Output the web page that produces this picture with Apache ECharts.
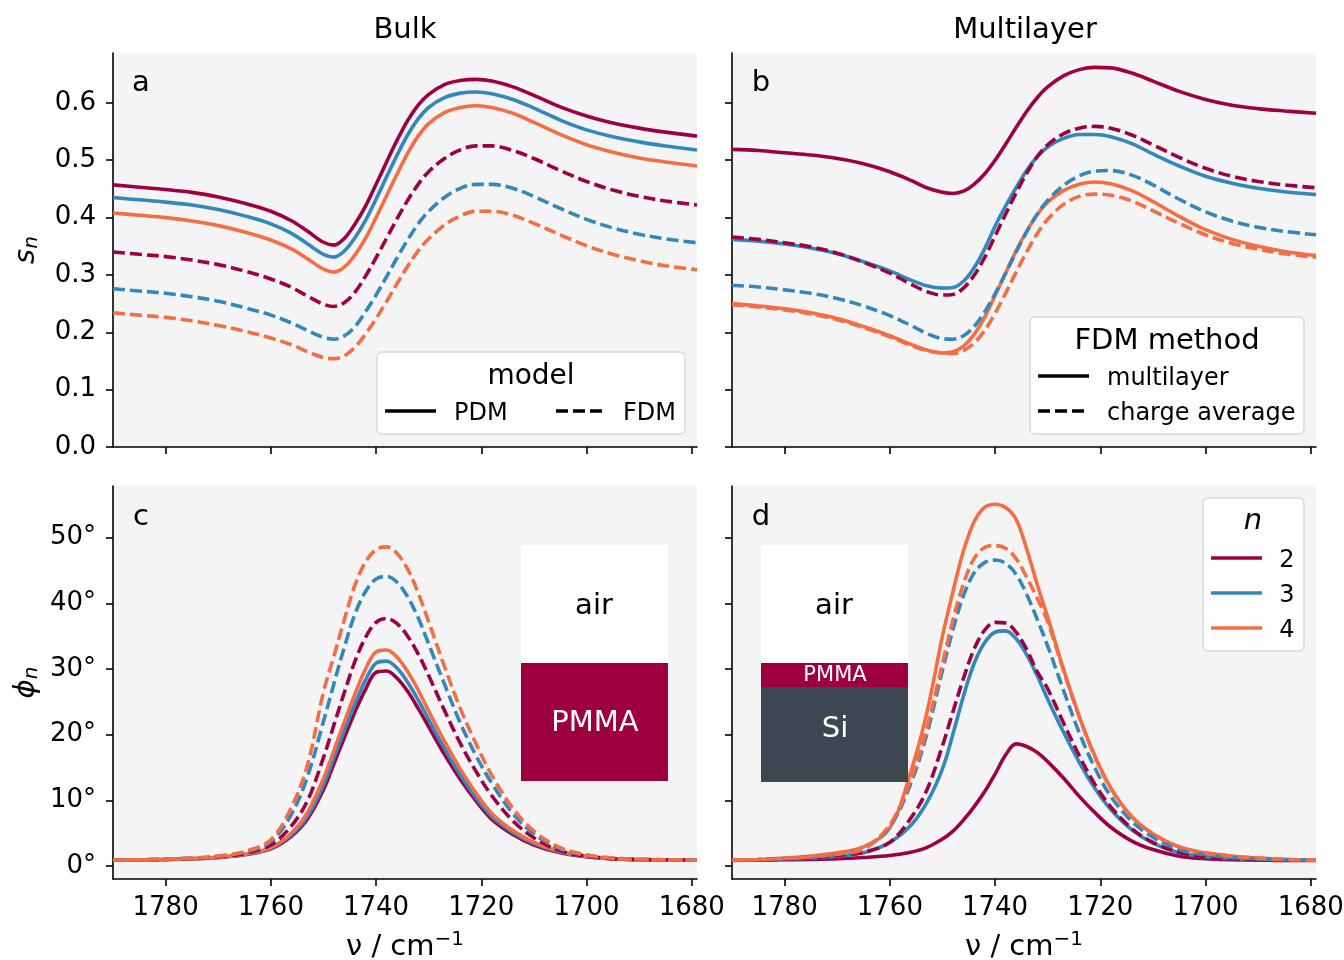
<!DOCTYPE html>
<html>
<head>
<meta charset="utf-8">
<title>PMMA near-field spectra</title>
<script src="https://cdn.jsdelivr.net/npm/echarts@6/dist/echarts.min.js"></script>
<style>
  html, body { margin: 0; padding: 0; background: #fff; }
  #chart { width: 1344px; height: 960px; }
</style>
</head>
<body>
<div id="chart"></div>
<script>
// wavenumber samples in cm^-1, shared by every curve
const wavenumber = [1790, 1785, 1780, 1775, 1770, 1765, 1760, 1756, 1753, 1750, 1748, 1746, 1744, 1742, 1740, 1738,
  1736, 1734, 1732, 1730, 1727, 1724, 1721, 1718, 1714, 1710, 1705, 1700, 1695, 1690, 1685, 1679];

const xTicks = [1780, 1760, 1740, 1720, 1700, 1680];
const ampTicks = [0, 0.1, 0.2, 0.3, 0.4, 0.5, 0.6];
const phaseTicks = [0, 10, 20, 30, 40, 50];
const harmonics = ['2', '3', '4'];

// a: bulk, amplitude s_n
const bulkAmpPdm2 = [0.457, 0.453, 0.449, 0.444, 0.436, 0.425, 0.411, 0.394, 0.376, 0.357, 0.352, 0.364, 0.389, 0.420, 0.458, 0.497,
  0.535, 0.569, 0.596, 0.615, 0.632, 0.639, 0.641, 0.638, 0.628, 0.613, 0.593, 0.577, 0.565, 0.556, 0.549, 0.542];
const bulkAmpPdm3 = [0.435, 0.431, 0.427, 0.422, 0.414, 0.403, 0.389, 0.372, 0.354, 0.336, 0.331, 0.342, 0.365, 0.395, 0.432, 0.471,
  0.509, 0.544, 0.572, 0.592, 0.609, 0.617, 0.619, 0.616, 0.606, 0.591, 0.570, 0.553, 0.541, 0.532, 0.525, 0.518];
const bulkAmpPdm4 = [0.408, 0.404, 0.400, 0.394, 0.386, 0.375, 0.361, 0.345, 0.328, 0.310, 0.305, 0.314, 0.335, 0.364, 0.400, 0.438,
  0.476, 0.512, 0.542, 0.564, 0.583, 0.592, 0.595, 0.592, 0.582, 0.566, 0.545, 0.527, 0.514, 0.504, 0.497, 0.490];
const bulkAmpFdm2 = [0.340, 0.336, 0.332, 0.326, 0.318, 0.307, 0.293, 0.278, 0.263, 0.249, 0.245, 0.252, 0.270, 0.298, 0.330, 0.364,
  0.398, 0.430, 0.458, 0.480, 0.503, 0.518, 0.525, 0.525, 0.517, 0.503, 0.482, 0.463, 0.448, 0.437, 0.429, 0.422];
const bulkAmpFdm3 = [0.276, 0.272, 0.268, 0.262, 0.254, 0.243, 0.230, 0.216, 0.203, 0.191, 0.188, 0.194, 0.210, 0.236, 0.265, 0.297,
  0.330, 0.361, 0.389, 0.411, 0.435, 0.451, 0.458, 0.458, 0.451, 0.437, 0.416, 0.397, 0.382, 0.371, 0.363, 0.356];
const bulkAmpFdm4 = [0.234, 0.230, 0.226, 0.220, 0.212, 0.202, 0.190, 0.178, 0.166, 0.156, 0.154, 0.159, 0.174, 0.197, 0.224, 0.254,
  0.285, 0.315, 0.342, 0.363, 0.387, 0.403, 0.411, 0.411, 0.404, 0.390, 0.370, 0.351, 0.336, 0.325, 0.316, 0.309];

// b: multilayer, amplitude s_n
const multiAmpMl2 = [0.519, 0.517, 0.513, 0.509, 0.503, 0.494, 0.480, 0.465, 0.452, 0.444, 0.442, 0.446, 0.458, 0.476, 0.500, 0.528,
  0.557, 0.585, 0.609, 0.628, 0.647, 0.658, 0.662, 0.661, 0.652, 0.638, 0.620, 0.606, 0.596, 0.590, 0.586, 0.582];
const multiAmpMl3 = [0.362, 0.359, 0.354, 0.347, 0.337, 0.323, 0.307, 0.291, 0.281, 0.277, 0.278, 0.289, 0.312, 0.345, 0.385, 0.420,
  0.452, 0.482, 0.506, 0.523, 0.538, 0.545, 0.545, 0.541, 0.529, 0.511, 0.490, 0.472, 0.460, 0.451, 0.445, 0.440];
const multiAmpMl4 = [0.250, 0.246, 0.241, 0.234, 0.224, 0.210, 0.194, 0.179, 0.169, 0.164, 0.166, 0.176, 0.196, 0.226, 0.264, 0.303,
  0.342, 0.376, 0.405, 0.427, 0.447, 0.458, 0.462, 0.459, 0.447, 0.428, 0.402, 0.379, 0.362, 0.350, 0.341, 0.334];
const multiAmpCa2 = [0.366, 0.362, 0.356, 0.349, 0.338, 0.322, 0.303, 0.284, 0.271, 0.265, 0.266, 0.277, 0.299, 0.330, 0.368, 0.406,
  0.443, 0.477, 0.506, 0.527, 0.546, 0.556, 0.559, 0.556, 0.544, 0.527, 0.505, 0.486, 0.472, 0.463, 0.457, 0.452];
const multiAmpCa3 = [0.282, 0.279, 0.274, 0.268, 0.259, 0.246, 0.229, 0.212, 0.198, 0.189, 0.188, 0.194, 0.210, 0.235, 0.267, 0.303,
  0.340, 0.375, 0.406, 0.430, 0.456, 0.473, 0.481, 0.482, 0.474, 0.457, 0.432, 0.410, 0.394, 0.383, 0.376, 0.370];
const multiAmpCa4 = [0.248, 0.244, 0.239, 0.232, 0.222, 0.208, 0.192, 0.177, 0.168, 0.164, 0.163, 0.168, 0.181, 0.203, 0.233, 0.268,
  0.305, 0.340, 0.372, 0.397, 0.423, 0.437, 0.441, 0.439, 0.429, 0.412, 0.390, 0.370, 0.355, 0.345, 0.337, 0.331];

// c: bulk, phase phi_n in degrees
const bulkPhPdm2 = [0.9, 0.9, 1.0, 1.1, 1.3, 1.7, 2.6, 4.6, 7.2, 11.6, 15.6, 19.6, 23.5, 26.9, 29.5, 29.7,
  28.6, 26.6, 24.0, 21.2, 17.0, 13.2, 9.9, 7.1, 4.8, 3.2, 2.0, 1.4, 1.1, 0.95, 0.9, 0.9];
const bulkPhPdm3 = [0.9, 0.9, 1.0, 1.1, 1.3, 1.75, 2.7, 4.8, 7.6, 12.3, 16.5, 20.7, 24.7, 28.3, 30.9, 31.2,
  30.1, 28.0, 25.3, 22.3, 17.9, 13.9, 10.4, 7.5, 5.1, 3.4, 2.1, 1.45, 1.1, 0.95, 0.9, 0.9];
const bulkPhPdm4 = [0.9, 0.9, 1.0, 1.1, 1.35, 1.8, 2.8, 5.1, 8.2, 13.3, 17.6, 22.0, 26.2, 30.0, 32.6, 32.9,
  31.8, 29.6, 26.8, 23.6, 19.0, 14.8, 11.1, 8.0, 5.4, 3.6, 2.2, 1.5, 1.1, 0.95, 0.9, 0.9];
const bulkPhFdm2 = [0.9, 0.95, 1.0, 1.15, 1.4, 1.9, 3.2, 6.2, 10.0, 16.5, 21.5, 26.5, 31.2, 34.8, 37.1, 37.7,
  36.9, 35.0, 32.3, 29.0, 23.7, 18.7, 14.4, 10.7, 6.9, 4.3, 2.3, 1.5, 1.1, 1.0, 0.95, 0.9];
const bulkPhFdm3 = [0.9, 0.95, 1.05, 1.2, 1.5, 2.1, 3.7, 8.0, 13.7, 22.0, 27.8, 33.4, 38.4, 41.8, 43.7, 44.1,
  43.2, 41.0, 37.8, 33.8, 27.7, 21.8, 16.8, 12.6, 8.0, 4.9, 2.6, 1.6, 1.2, 1.0, 0.95, 0.9];
const bulkPhFdm4 = [0.9, 0.95, 1.05, 1.2, 1.5, 2.2, 4.0, 9.1, 15.5, 26.5, 32.0, 37.6, 42.8, 46.3, 48.2, 48.6,
  47.6, 45.2, 41.6, 37.2, 30.4, 24.0, 18.6, 13.8, 8.8, 5.3, 2.8, 1.7, 1.2, 1.0, 0.95, 0.9];

// d: multilayer, phase phi_n in degrees
const multiPhMl2 = [0.85, 0.9, 0.95, 1.0, 1.1, 1.3, 1.6, 2.1, 2.8, 4.1, 5.3, 7.0, 9.0, 11.3, 14.0, 16.9,
  18.6, 18.2, 17.3, 15.9, 13.4, 10.6, 8.1, 5.9, 3.8, 2.5, 1.5, 1.1, 0.95, 0.9, 0.85, 0.85];
const multiPhMl3 = [0.9, 0.95, 1.05, 1.2, 1.5, 2.0, 3.6, 6.2, 9.6, 14.8, 20.1, 25.9, 30.8, 34.0, 35.6, 35.8,
  34.6, 32.2, 29.0, 25.4, 20.4, 15.8, 11.8, 8.6, 5.5, 3.5, 2.0, 1.4, 1.1, 1.0, 0.95, 0.9];
const multiPhMl4 = [0.9, 1.0, 1.2, 1.5, 2.0, 2.9, 5.8, 14.4, 23.2, 35.0, 41.8, 48.0, 52.4, 54.6, 55.1, 54.6,
  52.8, 48.3, 42.9, 37.9, 30.0, 22.8, 16.7, 11.9, 7.5, 4.9, 2.9, 2.0, 1.5, 1.2, 1.0, 0.9];
const multiPhCa2 = [0.9, 0.95, 1.05, 1.25, 1.6, 2.1, 3.6, 7.3, 11.5, 18.3, 23.5, 28.6, 33.0, 35.9, 37.1, 37.0,
  35.6, 33.0, 29.6, 27.0, 21.8, 16.8, 12.4, 9.0, 5.7, 3.6, 2.1, 1.4, 1.1, 1.0, 0.95, 0.9];
const multiPhCa3 = [0.9, 1.0, 1.15, 1.4, 1.8, 2.6, 6.0, 12.6, 20.0, 29.8, 36.0, 41.2, 44.6, 46.2, 46.6, 46.1,
  44.4, 41.4, 37.6, 33.5, 26.8, 20.3, 14.9, 10.6, 6.8, 4.4, 2.5, 1.7, 1.3, 1.1, 1.0, 0.9];
const multiPhCa4 = [0.9, 1.0, 1.15, 1.4, 1.8, 2.6, 6.3, 13.2, 20.8, 30.8, 37.5, 43.0, 46.8, 48.5, 48.8, 48.4,
  46.8, 44.0, 40.8, 37.2, 29.8, 22.7, 16.6, 11.8, 7.5, 4.9, 2.9, 2.0, 1.5, 1.2, 1.0, 0.9];

const colors = ['#9e0142', '#3288bd', '#f46d43'];
const FONT = '"DejaVu Sans", sans-serif';
const DASH = [12, 5];
const LW = 3.6;

const grids = [
  { left: 113, top: 53, width: 584, height: 394 },
  { left: 732, top: 53, width: 584, height: 394 },
  { left: 113, top: 486, width: 584, height: 393 },
  { left: 732, top: 486, width: 584, height: 393 }
].map(g => Object.assign(g, { show: true, backgroundColor: '#f4f4f4', borderWidth: 0, containLabel: false, outerBoundsMode: 'none' }));

const axisLine = { show: true, onZero: false, lineStyle: { color: '#000', width: 1.6 } };
const tickStyle = { color: '#000', width: 1.6 };

function xAxisFor(gi, labels) {
  return {
    type: 'value', gridIndex: gi, min: 1679, max: 1790, inverse: true,
    axisLine,
    axisTick: { show: true, length: 7, customValues: xTicks, lineStyle: tickStyle },
    axisLabel: {
      show: labels, customValues: xTicks, fontSize: 26, color: '#000', fontFamily: FONT, margin: 16,
      formatter: v => String(v)
    },
    splitLine: { show: false },
    name: labels ? 'ν / cm{sup|−1}' : '',
    nameLocation: 'middle', nameGap: 51,
    nameTextStyle: {
      fontSize: 29, color: '#000', fontFamily: FONT,
      rich: { sup: { fontSize: 20, fontFamily: FONT, color: '#000', padding: [0, 0, 14, 0] } }
    }
  };
}

function yAxisFor(gi, phase, labels) {
  const ticks = phase ? phaseTicks : ampTicks;
  return {
    type: 'value', gridIndex: gi,
    min: phase ? -1.98 : 0, max: phase ? 57.87 : 0.687,
    axisLine,
    axisTick: { show: true, length: 7, customValues: ticks, lineStyle: tickStyle },
    axisLabel: {
      show: labels, customValues: ticks, fontSize: 26, color: '#000', fontFamily: FONT, margin: 17,
      formatter: v => phase ? v + '°' : v.toFixed(1)
    },
    splitLine: { show: false },
    name: labels ? (phase ? '{it|ϕ}{sub|n}' : '{it|s}{sub|n}') : '',
    nameLocation: 'middle', nameGap: 71, nameRotate: 90,
    nameTextStyle: {
      color: '#000',
      rich: {
        it: { fontSize: 29, fontStyle: 'italic', fontFamily: FONT, color: '#000' },
        sub: { fontSize: 20, fontStyle: 'italic', fontFamily: FONT, color: '#000', padding: [12, 0, 0, 0] }
      }
    }
  };
}

function curve(gi, ys, k, dashed) {
  return {
    type: 'line', xAxisIndex: gi, yAxisIndex: gi,
    data: wavenumber.map((v, i) => [v, ys[i]]),
    showSymbol: false, smooth: 0.35,
    silent: true, animation: false,
    lineStyle: { color: colors[k], width: LW, type: dashed ? DASH : 'solid', cap: 'butt' }
  };
}

const panels = [
  [[bulkAmpPdm2, bulkAmpPdm3, bulkAmpPdm4], [bulkAmpFdm2, bulkAmpFdm3, bulkAmpFdm4]],
  [[multiAmpMl2, multiAmpMl3, multiAmpMl4], [multiAmpCa2, multiAmpCa3, multiAmpCa4]],
  [[bulkPhPdm2, bulkPhPdm3, bulkPhPdm4], [bulkPhFdm2, bulkPhFdm3, bulkPhFdm4]],
  [[multiPhMl2, multiPhMl3, multiPhMl4], [multiPhCa2, multiPhCa3, multiPhCa4]]
];

const series = [];
panels.forEach((p, gi) => {
  p[0].forEach((ys, k) => series.push(curve(gi, ys, k, false)));
  p[1].forEach((ys, k) => series.push(curve(gi, ys, k, true)));
});

function txt(text, x, y, size, opts) {
  return {
    type: 'text', z: 100, silent: true,
    style: Object.assign({
      text, x, y: y + 3, fill: '#000', font: size + 'px ' + FONT,
      align: 'center', verticalAlign: 'middle', textAlign: 'center', textVerticalAlign: 'middle'
    }, opts || {})
  };
}
function rect(x, y, w, h, fill, extra) {
  return { type: 'rect', z: 90, silent: true, shape: Object.assign({ x, y, width: w, height: h }, extra && extra.shape), style: Object.assign({ fill }, extra && extra.style) };
}
function seg(x1, x2, y, color, dashed) {
  return {
    type: 'line', z: 100, silent: true, shape: { x1, y1: y, x2, y2: y },
    style: { stroke: color, lineWidth: LW, lineDash: dashed ? DASH : null }
  };
}
const legendBox = { shape: { r: 5 }, style: { stroke: '#d5d5d5', lineWidth: 1.5, opacity: 0.9 } };
const left = { align: 'left', textAlign: 'left' };

const graphic = [
  txt('Bulk', 405, 27, 29),
  txt('Multilayer', 1025, 27, 29),
  txt('a', 141, 80, 29), txt('b', 761, 80, 29),
  txt('c', 141, 514, 29), txt('d', 761, 514, 29),

  // legend a
  rect(377, 352, 308, 82, '#fff', legendBox),
  txt('model', 531, 374, 28),
  seg(385, 436, 411, '#000', false), txt('PDM', 454, 411, 24, left),
  seg(556, 604, 411, '#000', true), txt('FDM', 623, 411, 24, left),

  // legend b
  rect(1030, 317, 274, 117, '#fff', legendBox),
  txt('FDM method', 1167, 338, 29),
  seg(1038, 1089, 376, '#000', false), txt('multilayer', 1107, 376, 24, left),
  seg(1038, 1089, 411, '#000', true), txt('charge average', 1107, 411, 24, left),

  // legend d
  rect(1203, 498, 101, 153, '#fff', legendBox),
  txt('n', 1253, 518, 29, { font: 'italic 29px ' + FONT })
];
harmonics.forEach((h, k) => {
  const y = 558 + k * 35;
  graphic.push(seg(1211, 1262, y, colors[k], false), txt(h, 1287, y, 24));
});

// layer sketches
graphic.push(
  rect(521, 545, 147, 118, '#fff'),
  rect(521, 663, 147, 118, '#9e003f'),
  txt('air', 594, 603, 29),
  txt('PMMA', 595, 720, 29, { fill: '#fff' }),
  rect(761, 545, 147, 118, '#fff'),
  rect(761, 663, 147, 24, '#9e003f'),
  rect(761, 687, 147, 95, '#3d4751'),
  txt('air', 834, 603, 29),
  txt('PMMA', 835, 673, 21, { fill: '#fff' }),
  txt('Si', 835, 726, 29, { fill: '#fff' })
);

const chart = echarts.init(document.getElementById('chart'), null, { renderer: 'canvas' });
chart.setOption({
  backgroundColor: '#fff',
  animation: false,
  grid: grids,
  xAxis: [xAxisFor(0, false), xAxisFor(1, false), xAxisFor(2, true), xAxisFor(3, true)],
  yAxis: [yAxisFor(0, false, true), yAxisFor(1, false, false), yAxisFor(2, true, true), yAxisFor(3, true, false)],
  series,
  graphic
});
</script>
</body>
</html>
